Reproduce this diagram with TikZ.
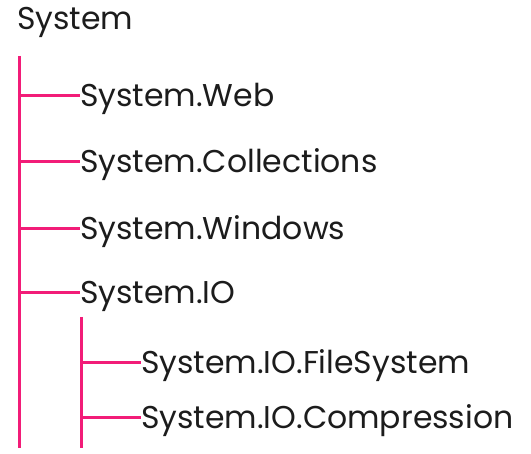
\documentclass[tikz,border=0pt]{standalone}
\usepackage{fontspec}
\setmainfont{Poppins}
\definecolor{pinkline}{HTML}{F21C78}
\definecolor{ink}{HTML}{1C1C1C}
\begin{document}
\begin{tikzpicture}[x=1pt,y=-1pt,
  lbl/.style={anchor=west,inner sep=0pt,text height=22pt,text depth=0pt,text=ink,font=\fontsize{31.5}{34}\selectfont},
  conn/.style={draw=pinkline,line width=3pt}]
\useasboundingbox (0,0) rectangle (531,454);
\node[lbl,anchor=base west] (root) at (17,30) {System};
\node[lbl] (web) at (80,96) {System.Web};
\node[lbl] (coll) at (80,162) {System.Collections};
\node[lbl] (win) at (80,229) {System.Windows};
\node[lbl] (io) at (80,293) {System.IO};
\node[lbl] (fs) at (141,363) {System.IO.FileSystem};
\node[lbl] (comp) at (141,418) {System.IO.Compression};
\coordinate (t0) at (19,56);
\coordinate (t1) at (19,448);
\coordinate (s0) at (81,317);
\coordinate (s1) at (81,448);
\draw[conn] (t0) -- (t1);
\draw[conn] (s0) -- (s1);
\foreach \n in {web,coll,win,io}{\draw[conn] (t0|-\n.west) -- (\n.west);}
\foreach \n in {fs,comp}{\draw[conn] (s0|-\n.west) -- (\n.west);}
\end{tikzpicture}
\end{document}
